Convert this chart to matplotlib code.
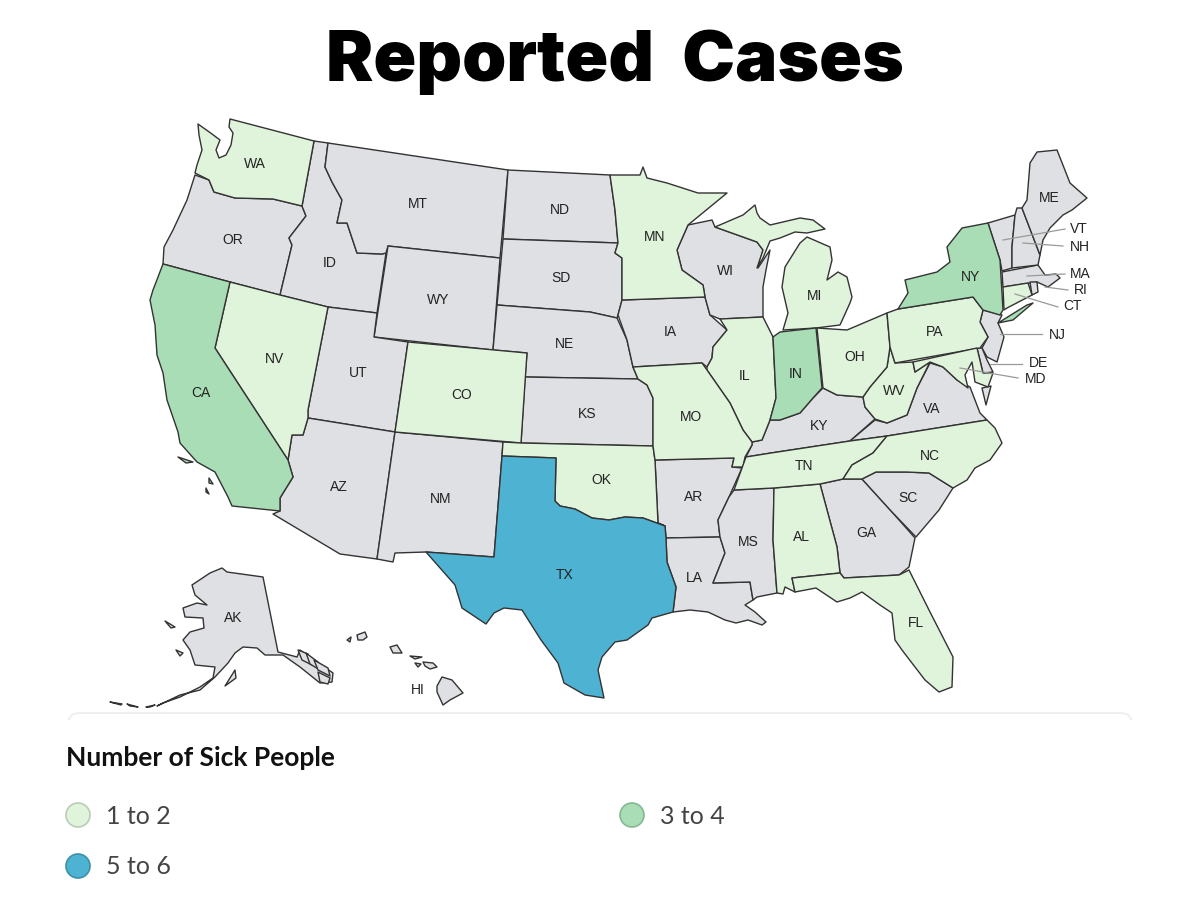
import matplotlib
matplotlib.use("Agg")
import matplotlib.pyplot as plt
from matplotlib.patches import Circle, FancyBboxPatch

# State outlines, in its pixel coordinates
WA = [(198,124),(212,134),(220,140),(216,150),(219,158),(226,155),(231,145),(233,133),(229,127),(230,119),(314,141),(302,206),(273,199),(235,198),(214,192),(209,180),(195,173),(197,165),(202,150),(199,135)]
OR = [(195,175),(209,180),(214,192),(235,198),(273,199),(302,206),(306,216),(289,238),(292,245),(280,295),(230,282),(163,264),(164,247),(173,230),(187,200)]
CA = [(163,264),(230,282),(215,348),(288,460),(293,477),(280,498),(280,511),(232,506),(228,497),(215,472),(197,462),(180,443),(178,432),(167,400),(163,373),(157,355),(155,325),(150,300),(153,290)]
NV = [(230,282),(280,295),(328,307),(308,410),(308,418),(303,435),(292,435),(288,460),(215,348)]
ID = [(314,141),(328,143),(325,167),(332,182),(342,200),(337,223),(347,223),(357,253),(382,254),(386,253),(377,313),(328,307),(280,295),(292,245),(289,238),(306,216),(302,206)]
MT = [(328,143),(508,170),(500,258),(388,246),(386,253),(382,254),(357,253),(347,223),(337,223),(342,200),(332,182),(325,167)]
WY = [(388,246),(500,258),(493,350),(374,337)]
UT = [(328,307),(377,313),(374,337),(408,342),(395,432),(308,418),(308,410)]
CO = [(408,342),(527,353),(521,443),(395,432)]
AZ = [(308,418),(395,432),(377,559),(340,554),(273,514),(280,511),(280,498),(293,477),(288,460),(292,435),(303,435)]
NM = [(395,432),(503,442),(502,456),(494,557),(426,552),(395,553),(393,562),(377,559)]
TX = [(502,456),(556,458),(555,501),(560,506),(575,509),(592,518),(609,520),(625,517),(643,518),(665,526),(666,538),(667,562),(676,587),(673,612),(652,618),(648,625),(627,640),(615,642),(602,657),(598,670),(604,698),(585,695),(564,683),(558,663),(541,640),(522,610),(504,608),(494,613),(486,624),(462,608),(455,585),(426,552),(494,557)]
OK = [(503,442),(521,443),(653,446),(655,460),(658,523),(665,526),(643,518),(625,517),(609,520),(592,518),(575,509),(560,506),(555,501),(556,458),(502,456)]
KS = [(525,377),(638,379),(647,385),(653,398),(653,446),(521,443)]
NE = [(497,305),(590,312),(617,318),(627,340),(633,367),(638,379),(525,377),(527,353),(493,350)]
SD = [(503,239),(618,243),(615,253),(622,258),(622,300),(618,315),(617,318),(590,312),(497,305)]
ND = [(508,170),(610,175),(615,210),(618,243),(503,239)]
MN = [(610,175),(640,175),(643,167),(647,178),(667,183),(698,193),(727,193),(688,225),(677,250),(682,270),(703,285),(705,297),(622,300),(622,258),(615,253),(618,243),(615,210)]
IA = [(622,300),(705,297),(710,315),(727,330),(713,347),(712,358),(707,367),(702,363),(633,367),(627,340),(618,315)]
WI = [(688,225),(712,220),(715,227),(757,242),(763,250),(758,268),(770,250),(766,270),(763,287),(763,317),(720,319),(710,315),(705,297),(703,285),(682,270),(677,250)]
IL = [(720,319),(763,317),(773,337),(776,398),(770,420),(762,440),(752,442),(743,430),(730,403),(707,370),(707,367),(712,358),(713,347),(727,330)]
MO = [(633,367),(702,363),(707,370),(730,403),(743,430),(752,442),(752,445),(745,457),(743,467),(732,467),(734,458),(655,460),(653,446),(653,398),(647,385),(638,379)]
AR = [(655,460),(734,458),(732,467),(742,468),(729,497),(718,520),(720,537),(666,538),(665,526),(658,523)]
LA = [(666,538),(720,537),(725,553),(713,583),(750,582),(753,600),(745,605),(755,612),(766,622),(762,625),(748,620),(736,623),(725,620),(708,612),(690,610),(673,612),(676,587),(667,562)]
MS = [(734,490),(774,488),(773,540),(777,593),(757,597),(753,600),(750,582),(713,583),(725,553),(720,537),(718,520),(729,497)]
AL = [(774,488),(820,484),(837,547),(840,573),(792,578),(795,592),(785,587),(783,594),(777,593),(773,540)]
GA = [(820,484),(843,479),(862,479),(892,512),(915,538),(909,567),(899,575),(844,578),(840,573),(837,547)]
SC = [(862,479),(876,472),(906,472),(929,473),(953,488),(939,510),(916,537),(892,512)]
FL = [(792,578),(840,573),(844,578),(899,575),(909,570),(929,610),(953,657),(952,687),(939,692),(925,680),(915,667),(902,650),(895,640),(892,613),(880,605),(862,592),(850,598),(837,602),(816,588),(795,592)]
TN = [(746,457),(771,453),(850,441),(887,436),(873,453),(852,465),(843,479),(820,484),(774,488),(734,490),(742,468)]
NC = [(887,436),(987,420),(995,428),(1002,443),(990,460),(975,468),(967,480),(953,488),(929,473),(906,472),(876,472),(862,479),(843,479),(852,465),(873,453)]
VA = [(850,441),(875,420),(887,423),(907,415),(917,388),(930,363),(943,367),(957,380),(970,387),(980,413),(987,420),(887,436)]
VA_SHORE = [(982,388),(991,386),(986,405)]
WV = [(890,347),(895,363),(913,362),(915,372),(930,362),(917,388),(907,415),(887,423),(875,419),(865,407),(863,397),(870,387),(887,367)]
KY = [(780,420),(800,413),(813,398),(823,388),(837,395),(863,397),(865,407),(875,419),(850,441),(771,453),(746,457),(752,445),(752,442),(762,440),(770,420)]
IN = [(773,337),(780,332),(816,328),(822,388),(813,398),(800,413),(780,420),(770,420),(776,398)]
MI_LOWER = [(783,330),(816,328),(840,325),(850,303),(852,297),(847,277),(838,272),(827,280),(832,260),(830,247),(807,237),(800,243),(785,267),(782,287),(788,313)]
MI_UPPER = [(715,227),(743,215),(755,205),(757,213),(760,218),(770,225),(800,218),(813,220),(825,229),(807,233),(795,232),(780,238),(770,241),(763,258),(757,268),(763,250),(757,242)]
OH = [(817,328),(847,330),(887,313),(890,347),(887,367),(870,387),(863,397),(837,395),(823,388)]
PA = [(887,313),(898,309),(973,297),(983,310),(980,322),(988,337),(980,348),(895,363),(890,347)]
NY = [(898,309),(908,293),(905,280),(937,272),(950,262),(947,247),(962,228),(988,223),(1000,260),(1003,310),(1000,315),(983,310),(973,297)]
LONG_ISLAND = [(998,323),(1027,305),(1033,303),(1013,320)]
NJ = [(983,310),(1002,315),(998,323),(1004,337),(997,362),(987,357),(982,348),(988,337),(980,322)]
DE = [(977,348),(982,348),(987,360),(993,372),(983,373)]
MD = [(913,362),(977,348),(983,373),(993,373),(988,387),(975,382),(972,362),(965,375),(968,388),(957,380),(943,367),(930,362),(915,372)]
CT = [(1003,287),(1028,283),(1032,295),(1007,308),(1004,310)]
RI = [(1030,282),(1037,282),(1038,292),(1032,295)]
MA = [(1002,272),(1038,265),(1045,275),(1056,274),(1060,278),(1048,287),(1037,282),(1003,287)]
VT = [(988,223),(1015,215),(1012,247),(1012,268),(1002,271),(1000,260)]
NH = [(1017,208),(1022,208),(1040,255),(1038,265),(1012,268),(1012,247),(1015,215)]
ME = [(1022,208),(1027,200),(1030,163),(1037,152),(1057,150),(1070,183),(1087,198),(1072,210),(1063,215),(1050,228),(1043,240),(1040,255)]
AK = [(222,568),(227,572),(263,577),(278,652),(297,657),(300,650),(333,673),(332,682),(320,683),(300,667),(283,655),(265,655),(257,648),(243,647),(235,653),(228,663),(215,677),(200,690),(180,695),(157,706),(163,703),(180,697),(200,687),(213,678),(215,667),(195,665),(190,650),(183,640),(190,632),(204,628),(203,618),(185,617),(183,608),(197,603),(207,605),(195,595),(192,585),(210,573)]
HI_BIG = [(442,677),(452,680),(463,693),(450,700),(443,705),(437,692),(437,686)]
HI_MAUI = [(423,662),(433,663),(437,667),(430,669),(425,666)]
HI_OAHU = [(390,647),(397,645),(402,653),(393,653)]
HI_KAUAI = [(357,635),(365,632),(367,637),(363,640),(358,640)]
HI_MOLOKAI = [(410,656),(422,657),(415,659)]
HI_LANAI = [(415,663),(421,664),(418,667)]
HI_NIIHAU = [(347,640),(351,637),(350,642)]
CA_ISLE_1 = [(178,457),(193,462),(186,463)]
CA_ISLE_2 = [(209,478),(213,484),(209,483)]
CA_ISLE_3 = [(206,488),(209,494),(206,492)]
AK_KODIAK = [(225,686),(235,670),(236,678)]
AK_ST_LAWRENCE = [(165,621),(175,627),(171,628)]
AK_NUNIVAK = [(176,650),(183,653),(180,656)]
ALEUTIANS_1 = [(110,702),(122,704),(121,705)]
ALEUTIANS_2 = [(127,704),(138,707),(130,706)]
ALEUTIANS_3 = [(146,707),(155,705),(150,707)]
PANHANDLE_1 = [(298,650),(308,654),(312,665),(302,660)]
PANHANDLE_2 = [(306,653),(318,662),(320,670),(310,664)]
PANHANDLE_3 = [(314,660),(328,668),(330,676),(318,670)]
PANHANDLE_4 = [(318,672),(330,678),(328,684),(320,682)]

STATES_GREY = [OR, ID, MT, WY, UT, AZ, NM, ND, SD, NE, KS, IA, WI, AR, LA, MS, GA, SC, KY, VA, VA_SHORE, NJ, DE, MA, RI, VT, NH, ME,
               AK, AK_KODIAK, AK_ST_LAWRENCE, AK_NUNIVAK, ALEUTIANS_1, ALEUTIANS_2, ALEUTIANS_3,
               PANHANDLE_1, PANHANDLE_2, PANHANDLE_3, PANHANDLE_4,
               HI_BIG, HI_MAUI, HI_OAHU, HI_KAUAI, HI_MOLOKAI, HI_LANAI, HI_NIIHAU]
STATES_1_TO_2 = [WA, NV, CO, OK, MN, IL, MO, AL, FL, TN, NC, WV, MI_LOWER, MI_UPPER, OH, PA, MD, CT]
STATES_3_TO_4 = [CA, IN, NY, LONG_ISLAND, CA_ISLE_1, CA_ISLE_2, CA_ISLE_3]
STATES_5_TO_6 = [TX]

STATE_LABELS = ["WA", "OR", "ID", "MT", "WY", "NV", "UT", "CA", "CO", "AZ", "NM", "ND", "SD", "NE", "KS", "OK", "TX",
                "MN", "IA", "MO", "AR", "LA", "WI", "IL", "MS", "MI", "IN", "OH", "KY", "TN", "AL", "GA", "FL", "SC",
                "NC", "VA", "WV", "PA", "NY", "ME", "AK", "HI"]
LABEL_X = [255, 233, 330, 418, 438, 274, 358, 201, 462, 339, 441, 560, 561, 565, 587, 601, 565,
           655, 670, 691, 694, 694, 725, 745, 748, 815, 796, 855, 819, 804, 801, 866, 916, 908,
           930, 932, 894, 935, 970, 1049, 233, 418]
LABEL_Y = [164, 240, 263, 204, 300, 359, 373, 393, 395, 487, 499, 210, 278, 344, 414, 480, 575,
           237, 332, 417, 497, 578, 271, 376, 542, 296, 374, 357, 426, 466, 537, 533, 623, 498,
           456, 409, 391, 332, 277, 198, 618, 690]

CALLOUT_LABELS = ["VT", "NH", "MA", "RI", "CT", "NJ", "DE", "MD"]
CALLOUT_TEXT_X = [1079, 1080, 1080, 1081, 1073, 1057, 1039, 1036]
CALLOUT_TEXT_Y = [229, 247, 274, 290, 306, 335, 363, 379]
CALLOUT_FROM = [(1003, 240), (1023, 243), (1027, 276), (1045, 287), (1015, 294), (1000, 334), (990, 364), (960, 368)]
CALLOUT_TO = [(1065, 229), (1063, 246), (1065, 274), (1068, 290), (1058, 307), (1042, 334), (1022, 364), (1018, 378)]

LEGEND_LABELS = ["1 to 2", "3 to 4", "5 to 6"]
LEGEND_X = [78, 632, 78]
LEGEND_Y = [815, 815, 866]

GREY = "#dfe0e3"
LIGHT_GREEN = "#e0f3db"
MID_GREEN = "#a8ddb5"
BLUE = "#4eb3d3"
LEGEND_COLORS = [LIGHT_GREEN, MID_GREEN, BLUE]
LEGEND_EDGES = ["#b9cdb5", "#86b894", "#3d8fa9"]


def draw_states(ax, outlines, color):
    for outline in outlines:
        xs = [p[0] for p in outline]
        ys = [p[1] for p in outline]
        ax.fill(xs, ys, facecolor=color, edgecolor="#333333", linewidth=1.0, joinstyle="round", zorder=2)


def main():
    fig = plt.figure(figsize=(12, 9), dpi=100)
    ax = fig.add_axes([0, 0, 1, 1])
    ax.set_xlim(0, 1200)
    ax.set_ylim(900, 0)
    ax.axis("off")

    draw_states(ax, STATES_GREY, GREY)
    draw_states(ax, STATES_1_TO_2, LIGHT_GREEN)
    draw_states(ax, STATES_3_TO_4, MID_GREEN)
    draw_states(ax, STATES_5_TO_6, BLUE)

    for name, x, y in zip(STATE_LABELS, LABEL_X, LABEL_Y):
        ax.text(x, y, name, ha="center", va="center", fontsize=10, family="Liberation Sans", color="#222222", zorder=4)

    # Small north-eastern states get a leader line
    for name, x, y, start, end in zip(CALLOUT_LABELS, CALLOUT_TEXT_X, CALLOUT_TEXT_Y, CALLOUT_FROM, CALLOUT_TO):
        ax.plot([start[0], end[0]], [start[1], end[1]], color="#999999", linewidth=0.9, zorder=3)
        ax.text(x, y, name, ha="center", va="center", fontsize=10, family="Liberation Sans", color="#222222", zorder=4)

    ax.text(615, 62, "Reported  Cases", ha="center", va="center", fontsize=51, fontweight="black",
            family=["Inter", "Open Sans"], color="black")

    ax.add_patch(FancyBboxPatch((68, 713), 1064, 30, boxstyle="round,pad=0,rounding_size=12",
                                facecolor="white", edgecolor="#ececec", linewidth=1.2, zorder=1))
    ax.add_patch(plt.Rectangle((60, 720), 1080, 30, facecolor="white", edgecolor="none", zorder=1.5))

    ax.text(66, 758, "Number of Sick People", ha="left", va="center", fontsize=19, fontweight="bold",
            family="Lato", color="#111111")

    for label, x, y, color, edge in zip(LEGEND_LABELS, LEGEND_X, LEGEND_Y, LEGEND_COLORS, LEGEND_EDGES):
        ax.add_patch(Circle((x, y), 12, facecolor=color, edgecolor=edge, linewidth=1.2))
        ax.text(x + 28, y + 1, label, ha="left", va="center", fontsize=18, family="Lato", color="#444444")

    fig.savefig("out.png", dpi=100)
    plt.close(fig)


if __name__ == "__main__":
    main()
